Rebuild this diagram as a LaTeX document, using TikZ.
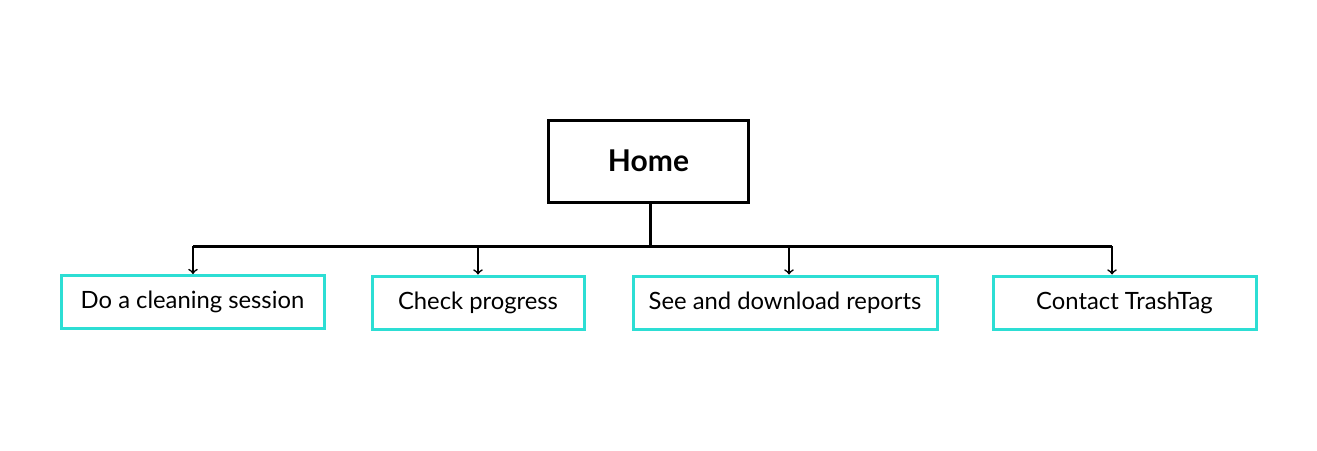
\documentclass[tikz,border=0pt]{standalone}
\usepackage{fontspec}
\setmainfont{Lato}
\usepackage{xcolor}
\usepackage{tikz}
\definecolor{trashcyan}{RGB}{45,222,212}

\begin{document}
\begin{tikzpicture}[x=0.5pt, y=-0.5pt,
  homebox/.style={draw, line width=1.5pt, minimum width=100pt, minimum height=41pt, font=\fontsize{15}{18}\selectfont\bfseries},
  pagebox/.style={draw=trashcyan, line width=1.5pt, minimum height=26.5pt, font=\fontsize{11.9}{14}\selectfont}]
\useasboundingbox (0,0) rectangle (1317,450);

\node[homebox] (home) at (648.5,161) {Home};
\node[pagebox, minimum width=131.5pt] (clean) at (192.5,302) {Do a cleaning session};
\node[pagebox, minimum width=106pt] (progress) at (478,302.5) {Check progress};
\node[pagebox, minimum width=152pt] (reports) at (785,302.5) {See and download reports};
\node[pagebox, minimum width=131.5pt] (contact) at (1124.5,302.5) {Contact TrashTag};

\coordinate (busl) at (193,246);
\coordinate (busr) at (1112,246);
\coordinate (bus) at (650,246);
\coordinate (c2) at (478,246);
\coordinate (c3) at (789,246);

\draw[line width=1.5pt] (busl) -- (busr);
\draw[line width=1.5pt] (home.south -| bus) -- (bus);
\draw[->, thick] (busl) -- (busl |- clean.north);
\draw[->, thick] (c2) -- (c2 |- progress.north);
\draw[->, thick] (c3) -- (c3 |- reports.north);
\draw[->, thick] (busr) -- (busr |- contact.north);
\end{tikzpicture}
\end{document}
